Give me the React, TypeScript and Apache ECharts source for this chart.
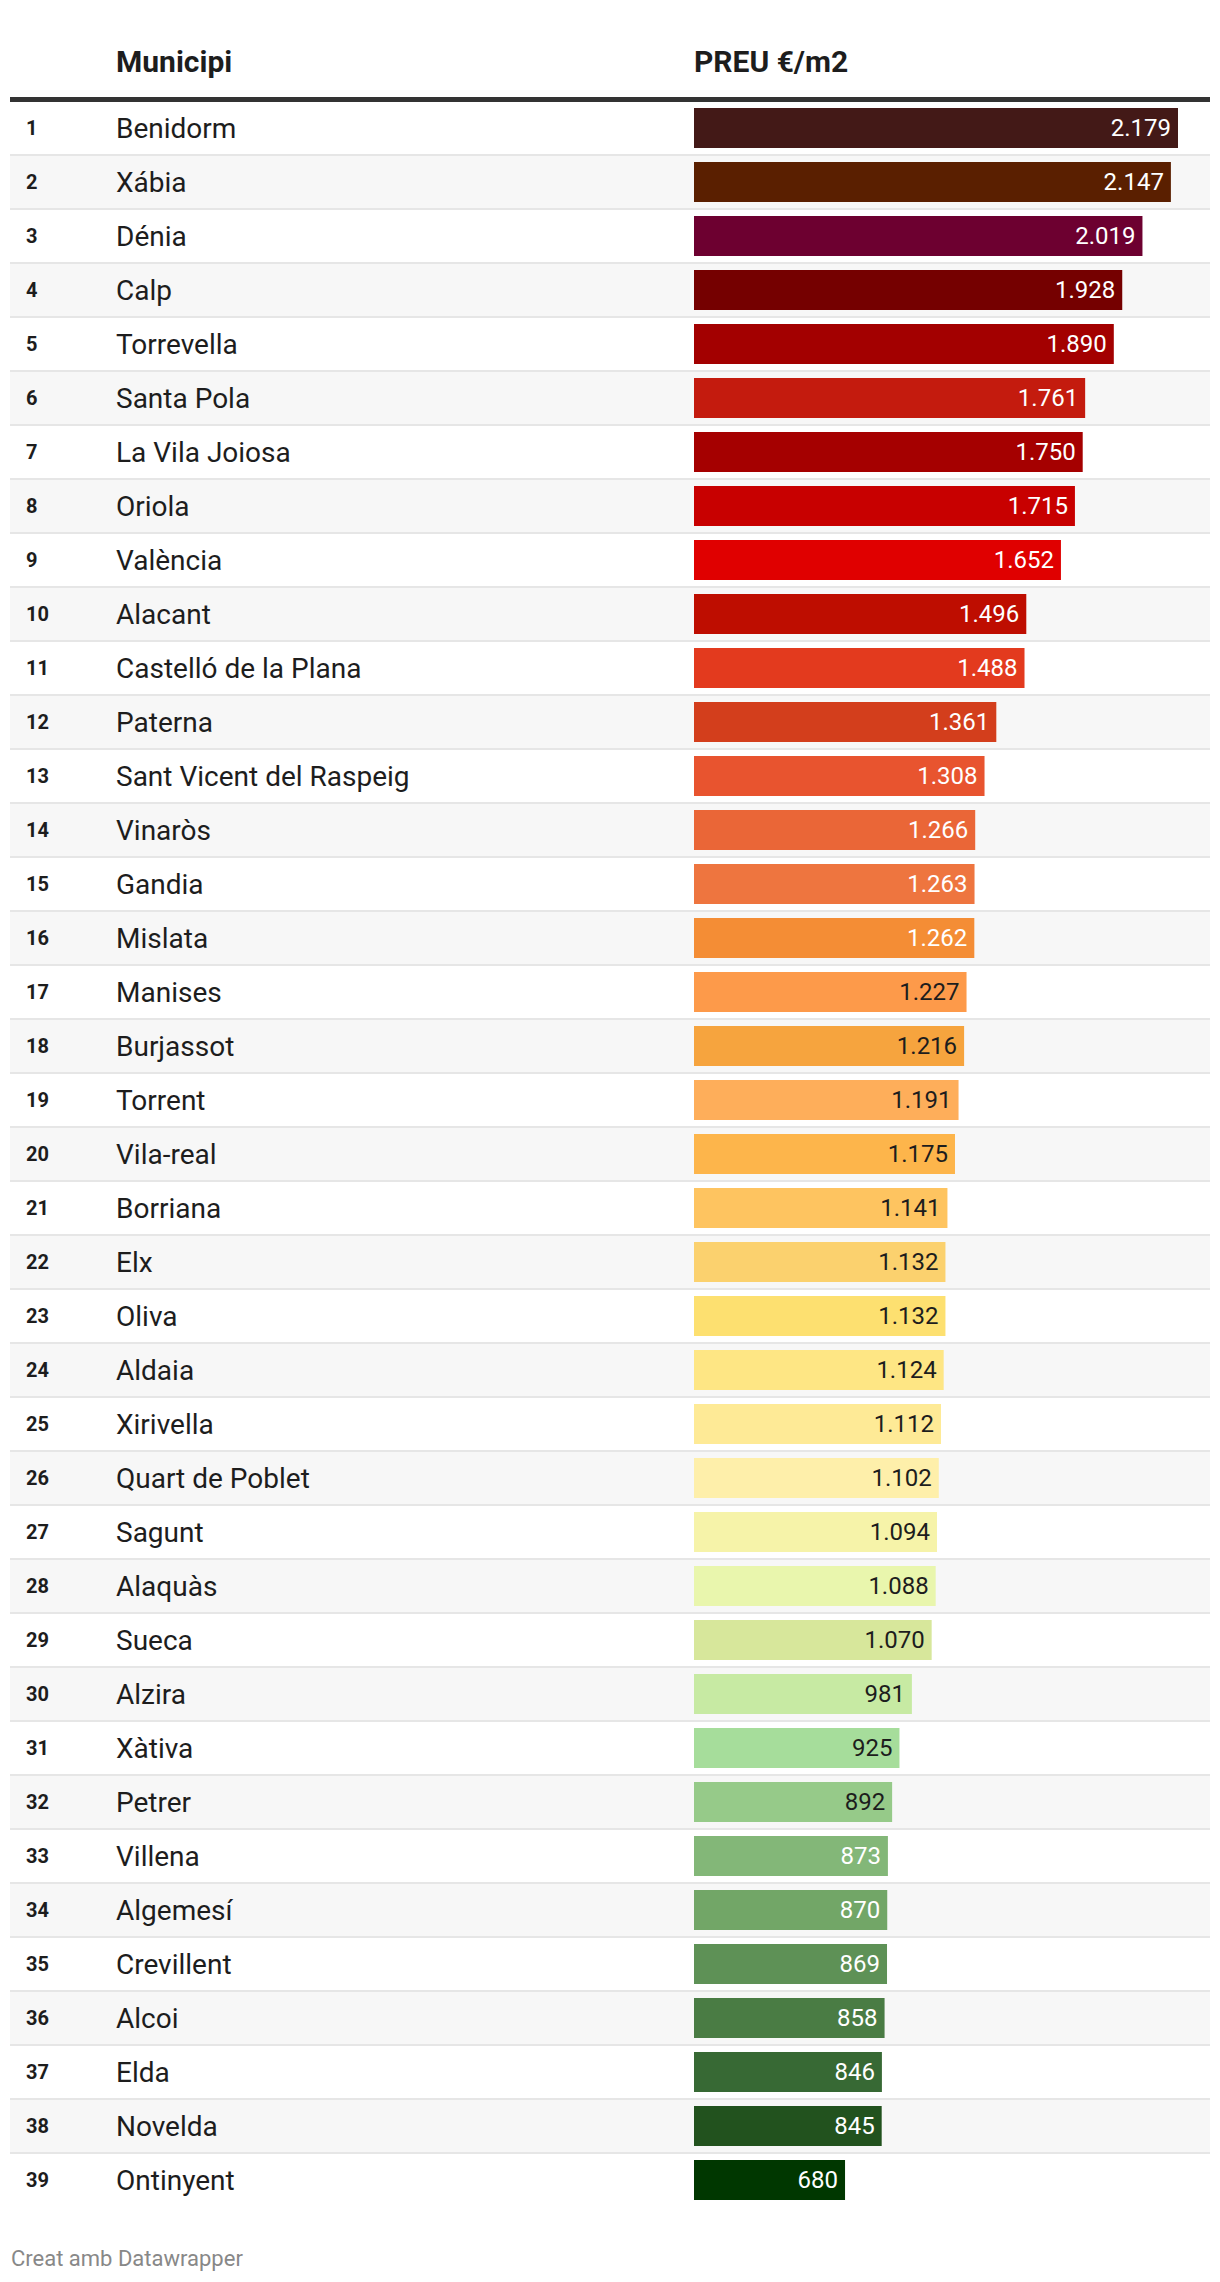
import React, { useEffect, useRef } from "react";
import * as echarts from "echarts";

const ranks = Array.from({ length: 39 }, (_, i) => String(i + 1));
const municipis = [
  "Benidorm", "Xábia", "Dénia", "Calp", "Torrevella", "Santa Pola", "La Vila Joiosa", "Oriola",
  "València", "Alacant", "Castelló de la Plana", "Paterna", "Sant Vicent del Raspeig", "Vinaròs",
  "Gandia", "Mislata", "Manises", "Burjassot", "Torrent", "Vila-real", "Borriana", "Elx", "Oliva",
  "Aldaia", "Xirivella", "Quart de Poblet", "Sagunt", "Alaquàs", "Sueca", "Alzira", "Xàtiva",
  "Petrer", "Villena", "Algemesí", "Crevillent", "Alcoi", "Elda", "Novelda", "Ontinyent",
];
const preus = [
  2179, 2147, 2019, 1928, 1890, 1761, 1750, 1715, 1652, 1496, 1488, 1361, 1308, 1266, 1263, 1262,
  1227, 1216, 1191, 1175, 1141, 1132, 1132, 1124, 1112, 1102, 1094, 1088, 1070, 981, 925, 892,
  873, 870, 869, 858, 846, 845, 680,
];
const barColors = [
  "#431917", "#5a1f00", "#6d0030", "#750000", "#a30000", "#c41b0e", "#a50000", "#c80000",
  "#e00000", "#be0d00", "#e33a1e", "#d33e1c", "#e8542f", "#ea6637", "#ee753f", "#f48d35",
  "#fd9a4a", "#f6a43e", "#feae5a", "#fdb54b", "#fec460", "#fbd16e", "#fde070", "#fee684",
  "#feea96", "#feefaa", "#f6f3a9", "#e9f6ad", "#d7e79b", "#c7eaa3", "#a6dd9b", "#96ca89",
  "#83b778", "#72a667", "#5e9156", "#4a7c44", "#376934", "#22521e", "#003700",
];
const darkLabelRows = [17, 32]; // rank range whose value labels are dark

const fmt = (v: number) =>
  v >= 1000 ? `${Math.floor(v / 1000)}.${String(v % 1000).padStart(3, "0")}` : String(v);

export default function App() {
  const ref = useRef<HTMLDivElement>(null);
  useEffect(() => {
    document.body.style.margin = "0";
    const chart = echarts.init(ref.current!, undefined, { renderer: "svg" });
    const font = "Roboto";
    chart.setOption({
      animation: false,
      backgroundColor: "#ffffff",
      textStyle: { fontFamily: font },
      grid: [
        { left: 10, right: 10, top: 101, height: 2106 },
        { left: 694, right: 42, top: 101, height: 2106 },
      ],
      xAxis: [
        { gridIndex: 0, type: "value", min: 0, max: 1, show: false },
        { gridIndex: 1, type: "value", min: 0, max: 2179, show: false },
      ],
      yAxis: [
        {
          gridIndex: 0,
          type: "category",
          inverse: true,
          data: municipis,
          axisLine: { show: false },
          axisTick: { show: false },
          splitArea: { show: true, areaStyle: { color: ["#ffffff", "#f7f7f7"] } },
          splitLine: { show: true, lineStyle: { color: "#e6e6e6", width: 2 } },
          axisLabel: {
            inside: true,
            margin: 16,
            formatter: (v: string, i: number) => `{r|${ranks[i]}}{n|${v}}`,
            rich: {
              r: { width: 90, fontSize: 20, fontWeight: "bold", color: "#1d1d1d", fontFamily: font },
              n: { fontSize: 28, color: "#1d1d1d", fontFamily: font },
            },
          },
        },
        {
          gridIndex: 1,
          type: "category",
          inverse: true,
          data: municipis,
          show: false,
        },
      ],
      series: [
        {
          type: "bar",
          xAxisIndex: 1,
          yAxisIndex: 1,
          barWidth: 40,
          data: preus.map((v, i) => {
            const rank = i + 1;
            const dark = rank >= darkLabelRows[0] && rank <= darkLabelRows[1];
            return {
              value: v,
              itemStyle: { color: barColors[i] },
              label: { color: dark ? "#1d1d1d" : "#ffffff" },
            };
          }),
          label: {
            show: true,
            position: "insideRight",
            distance: 7,
            fontSize: 24,
            fontFamily: font,
            formatter: (p: any) => fmt(p.value),
          },
        },
      ],
      graphic: [
        {
          type: "text",
          left: 116,
          top: 46,
          style: { text: "Municipi", font: `bold 30px ${font}`, fill: "#1d1d1d" },
        },
        {
          type: "text",
          left: 694,
          top: 46,
          style: { text: "PREU €/m2", font: `bold 30px ${font}`, fill: "#1d1d1d" },
        },
        {
          type: "rect",
          z: 100,
          shape: { x: 10, y: 97, width: 1200, height: 5 },
          style: { fill: "#333333" },
        },
        {
          type: "rect",
          z: 100,
          shape: { x: 0, y: 2206, width: 1220, height: 4 },
          style: { fill: "#ffffff" },
        },
        {
          type: "text",
          left: 11,
          top: 2247,
          style: { text: "Creat amb Datawrapper", font: `22px ${font}`, fill: "#888888" },
        },
      ],
    });
    return () => chart.dispose();
  }, []);
  return <div ref={ref} style={{ width: 1220, height: 2282 }} />;
}
